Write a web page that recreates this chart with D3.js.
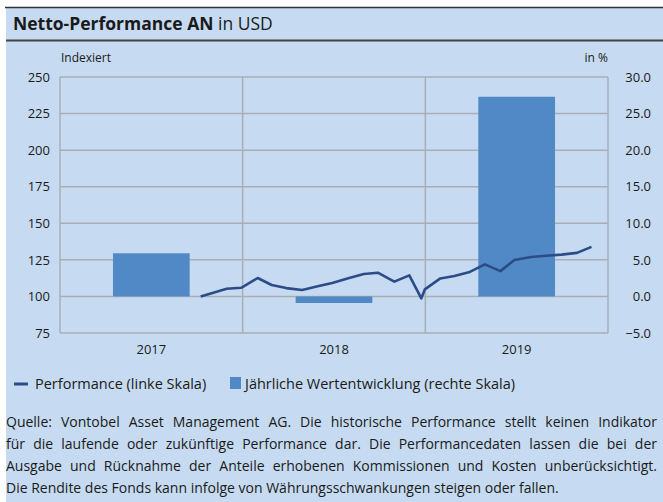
<!DOCTYPE html>
<html>
<head>
<meta charset="utf-8">
<script src="https://cdn.jsdelivr.net/npm/d3@7"></script>
<style>
  body { margin: 0; background: #fff; }
  svg text { font-family: "Open Sans", Lato, sans-serif; fill: #1a1a1a; }
</style>
</head>
<body>
<div id="chart"></div>
<script>
// Yearly bars (right scale, %)
var years = ["2017", "2018", "2019"];
var yearlyReturn = [5.9, -0.9, 27.3];

// Indexed performance (left scale)
var perfDates = ["2017-10-09", "2017-10-31", "2017-11-30", "2017-12-29", "2018-01-31", "2018-02-28",
    "2018-03-29", "2018-04-30", "2018-05-31", "2018-06-29", "2018-07-31", "2018-08-31", "2018-09-28",
    "2018-10-31", "2018-11-30", "2018-12-24", "2018-12-31", "2019-01-31", "2019-02-28", "2019-03-29",
    "2019-04-30", "2019-05-31", "2019-06-28", "2019-07-31", "2019-08-30", "2019-09-30", "2019-10-31",
    "2019-11-29"];
var perfValues = [100, 102.2, 105.3, 105.9, 112.6, 107.8, 105.7, 104.4, 107.0, 109.2, 112.5, 115.3, 116.2,
    110.1, 114.4, 98.7, 104.8, 112.3, 114.0, 116.5, 121.9, 117.3, 124.9, 126.9, 127.8, 128.6, 129.8, 133.9];

var leftTicks = [75, 100, 125, 150, 175, 200, 225, 250];
var rightTicks = [-5, 0, 5, 10, 15, 20, 25, 30];

var footnote = [
    "Quelle: Vontobel Asset Management AG. Die historische Performance stellt keinen Indikator",
    "für die laufende oder zukünftige Performance dar. Die Performancedaten lassen die bei der",
    "Ausgabe und Rücknahme der Anteile erhobenen Kommissionen und Kosten unberücksichtigt.",
    "Die Rendite des Fonds kann infolge von Währungsschwankungen steigen oder fallen."
];

var W = 663, H = 502;
var plot = {left: 60, right: 608, top: 77, bottom: 333};
var barColor = "#5089c6", lineColor = "#2b4c88", gridColor = "#a9aeb5";

var svg = d3.select("#chart").append("svg")
    .attr("width", W).attr("height", H);

//Background panel and header rules
svg.append("rect").attr("x", 6).attr("y", 7).attr("width", W - 6).attr("height", H - 7)
    .attr("fill", "#c6dbf1");
svg.append("line").attr("x1", 5).attr("x2", W).attr("y1", 7.5).attr("y2", 7.5)
    .attr("stroke", "#333").attr("stroke-width", 1.5);
svg.append("line").attr("x1", 6).attr("x2", W).attr("y1", 40.5).attr("y2", 40.5)
    .attr("stroke", "#444").attr("stroke-width", 2);

var title = svg.append("text").attr("x", 13).attr("y", 30).style("font-size", "17.5px");
title.append("tspan").style("font-weight", "bold").text("Netto-Performance AN");
title.append("tspan").text(" in USD");

//Scales
var xBand = d3.scaleBand().domain(years).range([plot.left, plot.right]).padding(0);
var xTime = d3.scaleTime()
    .domain([new Date(2017, 0, 1), new Date(2020, 0, 1)])
    .range([plot.left, plot.right]);
var yLeft = d3.scaleLinear().domain([75, 250]).range([plot.bottom, plot.top]);
var yRight = d3.scaleLinear().domain([-5, 30]).range([plot.bottom, plot.top]);

//Gridlines
svg.append("g").selectAll("line").data(leftTicks).enter().append("line")
    .attr("x1", plot.left).attr("x2", plot.right)
    .attr("y1", function (d) { return yLeft(d); }).attr("y2", function (d) { return yLeft(d); })
    .attr("stroke", gridColor).attr("stroke-width", 1.5);
var vGrid = [plot.left].concat(years.map(function (d) { return xBand(d) + xBand.bandwidth(); }));
svg.append("g").selectAll("line").data(vGrid).enter().append("line")
    .attr("x1", function (d) { return d; }).attr("x2", function (d) { return d; })
    .attr("y1", plot.top).attr("y2", plot.bottom)
    .attr("stroke", gridColor).attr("stroke-width", 1.5);

//Bars
var barW = xBand.bandwidth() * 0.42;
svg.append("g").selectAll("rect").data(yearlyReturn).enter().append("rect")
    .attr("x", function (d, i) { return xBand(years[i]) + xBand.bandwidth() / 2 - barW / 2; })
    .attr("width", barW)
    .attr("y", function (d) { return yRight(Math.max(d, 0)); })
    .attr("height", function (d) { return Math.abs(yRight(d) - yRight(0)); })
    .attr("fill", barColor);

//Performance line
var parse = d3.timeParse("%Y-%m-%d");
var line = d3.line()
    .x(function (d, i) { return xTime(parse(perfDates[i])); })
    .y(function (d) { return yLeft(d); });
svg.append("path").datum(perfValues)
    .attr("d", line)
    .attr("fill", "none").attr("stroke", lineColor).attr("stroke-width", 2.6)
    .attr("stroke-linejoin", "round");

//Axes labels
var leftAxis = d3.axisLeft(yLeft).tickValues(leftTicks).tickSize(0).tickPadding(10);
svg.append("g").attr("transform", "translate(" + plot.left + ",0)").call(leftAxis)
    .call(function (g) { g.select(".domain").remove(); })
    .selectAll("text").style("font-size", "13px").style("font-family", null);

var rightAxis = d3.axisRight(yRight).tickValues(rightTicks).tickSize(0)
    .tickFormat(d3.format(".1f"));
svg.append("g").attr("transform", "translate(651,0)").call(rightAxis)
    .call(function (g) { g.select(".domain").remove(); })
    .selectAll("text").attr("x", 0).attr("text-anchor", "end")
    .style("font-size", "13px").style("font-family", null);

var xAxis = d3.axisBottom(xBand).tickSize(0).tickPadding(12);
svg.append("g").attr("transform", "translate(0," + plot.bottom + ")").call(xAxis)
    .call(function (g) { g.select(".domain").remove(); })
    .selectAll("text").style("font-size", "13px").style("font-family", null);

svg.append("text").attr("x", plot.left + 1).attr("y", 62).style("font-size", "12px").text("Indexiert");
svg.append("text").attr("x", plot.right).attr("y", 62).attr("text-anchor", "end")
    .style("font-size", "12px").text("in %");

//Legend
svg.append("line").attr("x1", 14).attr("x2", 28).attr("y1", 384).attr("y2", 384)
    .attr("stroke", lineColor).attr("stroke-width", 3);
svg.append("text").attr("x", 35).attr("y", 389).style("font-size", "14.5px")
    .text("Performance (linke Skala)");
svg.append("rect").attr("x", 230).attr("y", 377).attr("width", 11).attr("height", 12)
    .attr("fill", barColor);
svg.append("text").attr("x", 245).attr("y", 389).style("font-size", "14.5px")
    .text("Jährliche Wertentwicklung (rechte Skala)");

//Footnote, justified except the last line
var fnLeft = 6, fnRight = 657;
footnote.forEach(function (t, i) {
    var txt = svg.append("text").attr("x", fnLeft).attr("y", 427 + i * 22)
        .style("font-size", "14px").text(t);
    if (i < footnote.length - 1) {
        var w = txt.node().getComputedTextLength();
        var spaces = t.split(" ").length - 1;
        txt.attr("word-spacing", (fnRight - fnLeft - w) / spaces);
    }
});
</script>
</body>
</html>
